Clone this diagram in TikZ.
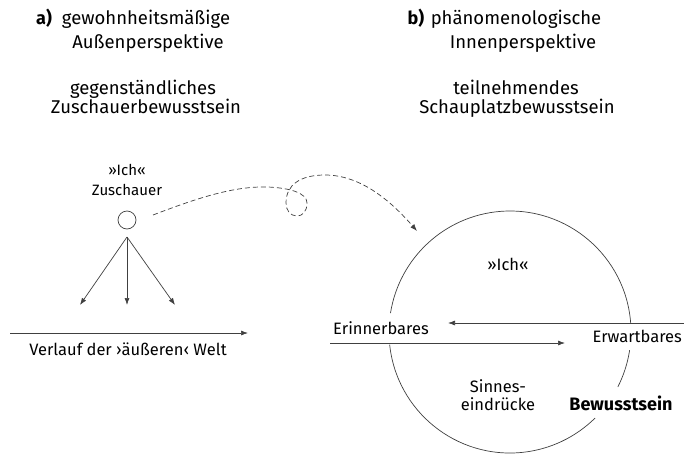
\documentclass[tikz,border=0pt]{standalone}
\usepackage{fontspec}
\setmainfont{Fira Sans}
\usetikzlibrary{arrows.meta}
\definecolor{ln}{gray}{0.25}
\tikzset{
  txt/.style={anchor=base, inner sep=0pt, font=\fontsize{18.5}{20}\selectfont},
  sml/.style={anchor=base, inner sep=0pt, font=\fontsize{16.5}{18}\selectfont},
  fig/.style={anchor=base, inner sep=0pt, font=\fontsize{15}{18}\selectfont},
  bld/.style={anchor=base, inner sep=0pt, font=\fontsize{18}{20}\selectfont\bfseries},
  arr/.style={draw=ln, line width=0.7pt, -{Latex[length=7pt,width=5pt]}},
  ln/.style={draw=ln, line width=0.7pt},
}
\begin{document}
\begin{tikzpicture}[x=1pt,y=-1pt]
\useasboundingbox (0,0) rectangle (684,455);
% titles left
\node[bld] (la) at (44,24) {a)};
\node[txt] (l1) at (146,24) {gewohnheitsmäßige};
\node[txt] (l2) at (148,48) {Außenperspektive};
\node[txt] (l3) at (143,94) {gegenständliches};
\node[txt] (l4) at (146,113) {Zuschauerbewusstsein};
% titles right
\node[bld] (rb) at (416,24) {b)};
\node[txt] (r1) at (516,24) {phänomenologische};
\node[txt] (r2) at (523,48) {Innenperspektive};
\node[txt] (r3) at (516,94) {teilnehmendes};
\node[txt] (r4) at (517,113) {Schauplatzbewusstsein};
% stick figure
\node[fig] (ich1) at (127,175) {»Ich«};
\node[fig] (zus) at (127,195) {Zuschauer};
\node[ln, circle, minimum size=18pt, inner sep=0pt] (head) at (127,220) {};
\coordinate (foot) at (127,237);
\coordinate (e1) at (80,305);
\coordinate (e2) at (127,305);
\coordinate (e3) at (175,305);
\draw[arr] (foot) -- (e1);
\draw[arr] (foot) -- (e2);
\draw[arr] (foot) -- (e3);
\coordinate (w0) at (10,333);
\coordinate (w1) at (248,333);
\draw[arr] (w0) -- (w1);
\node[sml] (welt) at (128,355) {Verlauf der ›äußeren‹ Welt};
% dashed curve
\coordinate (d0) at (153,215);
\coordinate (d1) at (417,231);
\draw[draw=ln, line width=0.7pt, dash pattern=on 5pt off 3pt, -{Latex[length=7pt,width=5pt]}]
  (d0) .. controls (200,197) and (235,186) .. (268,187)
  .. controls (290,188) and (307,193) .. (307,203)
  .. controls (307,212) and (302,216) .. (297,216)
  .. controls (290,216) and (286,210) .. (286,203)
  .. controls (286,185) and (300,175) .. (325,175)
  .. controls (360,175) and (390,200) .. (d1);
% big circle (y axis points down, so angles run clockwise)
\coordinate (cc) at (510,332);
\draw[ln] (cc) ++(-186:121) arc[start angle=-186, end angle=-314.7, radius=121];
\draw[ln] (cc) ++(27:121) arc[start angle=27, end angle=8.6, radius=121];
\draw[ln] (cc) ++(-4.3:121) arc[start angle=-4.3, end angle=-171, radius=121];
% inner texts
\node[sml] (ich2) at (508,270) {»Ich«};
\node[sml, anchor=base west] (erin) at (333,334) {Erinnerbares};
\node[sml, anchor=base east] (erw) at (682,342) {Erwartbares};
\node[sml] (sin1) at (498,392) {Sinnes-};
\node[sml] (sin2) at (498,410) {eindrücke};
\node[bld] (bew) at (621,410) {Bewusstsein};
\coordinate (t0) at (684,323);
\coordinate (t1) at (448,323);
\draw[arr] (t0) -- (t1);
\coordinate (b0) at (330,343);
\coordinate (b1) at (565,343);
\draw[arr] (b0) -- (b1);
\end{tikzpicture}
\end{document}
